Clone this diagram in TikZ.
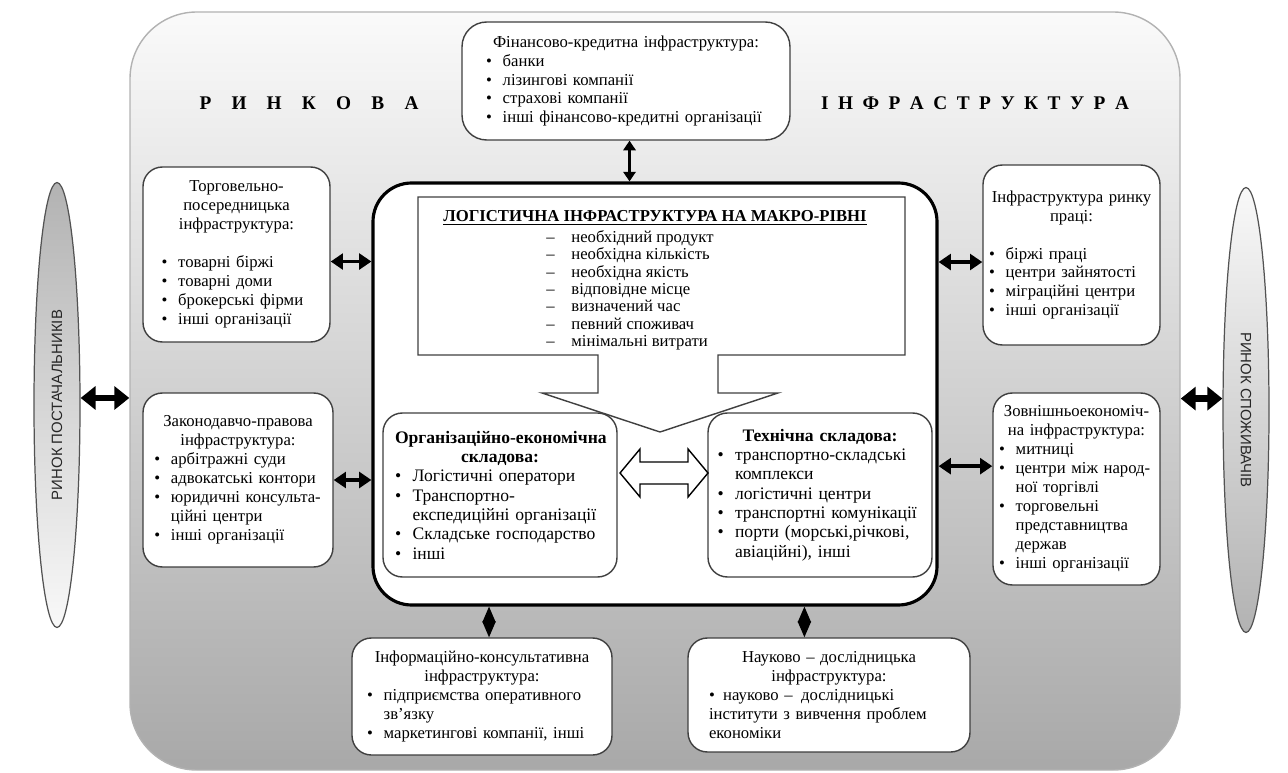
\documentclass[tikz,border=0pt]{standalone}
\usepackage{fontspec}
\setmainfont{Liberation Serif}
\newfontfamily\ellfont{Liberation Sans}
\usetikzlibrary{arrows.meta,shapes.geometric,fit}
\hyphenpenalty=10000
\exhyphenpenalty=10000

% heading and bullet item inside the boxes
\newcommand{\hd}[1]{{\noindent\centering #1\par}}
\newcommand{\itm}[1]{{\raggedright\let\\\newline\hangindent=1em\hangafter=1\noindent\makebox[1em][l]{\textbullet}#1\par}}

\tikzset{
  frame/.style={draw=gray!60, line width=0.8pt, rounded corners=38pt, inner sep=0pt,
    top color=gray!4, bottom color=gray!68},
  infobox/.style={draw=black!75, line width=0.8pt, rounded corners=11pt, fill=white,
    inner sep=0pt, align=left, font=\fontsize{9.5}{10.8}\selectfont},
  market/.style={ellipse, draw=gray!65!black, line width=0.7pt, minimum width=0.92cm,
    minimum height=8.9cm, inner sep=0pt},
  heavy/.style={line width=2.2pt, {Triangle[length=7pt,width=9pt]}-{Triangle[length=7pt,width=9pt]}},
  heavier/.style={line width=3.6pt, {Triangle[length=8.5pt,width=13pt]}-{Triangle[length=8.5pt,width=13pt]}},
  diamondlink/.style={line width=0.8pt, {Triangle[length=9pt,width=7.5pt]}-{Triangle[length=9pt,width=7.5pt]}}
}

\begin{document}
\begin{tikzpicture}[x=0.02cm, y=-0.02cm]
  \useasboundingbox (0,0) rectangle (1288,773);
  % Market infrastructure frame
  \node[frame, fit={(130,12) (1180,770)}] (infra) {};
  \node[font=\fontsize{11}{13}\selectfont\bfseries] (w1) at (309,103)
    {Р\hspace{11.5pt}И\hspace{11.5pt}Н\hspace{11.5pt}К\hspace{11.5pt}О\hspace{11.5pt}В\hspace{11.5pt}А};
  \node[font=\fontsize{11}{13}\selectfont\bfseries] (w2) at (975,103)
    {І\hspace{5.4pt}Н\hspace{5.4pt}Ф\hspace{5.4pt}Р\hspace{5.4pt}А\hspace{5.4pt}С\hspace{5.4pt}Т\hspace{5.4pt}Р\hspace{5.4pt}У\hspace{5.4pt}К\hspace{5.4pt}Т\hspace{5.4pt}У\hspace{5.4pt}Р\hspace{5.4pt}А};

  % Suppliers and consumers
  \node[market, top color=gray!60, bottom color=gray!5] (supply) at (57,405) {};
  \node[rotate=90, font=\ellfont\fontsize{8.5}{10}\selectfont, text=black!85] (supplyt) at (supply) {РИНОК ПОСТАЧАЛЬНИКІВ};
  \node[market, top color=gray!5, bottom color=gray!60] (consume) at (1246,410) {};
  \node[rotate=-90, font=\ellfont\fontsize{8.5}{10}\selectfont, text=black!85] (consumet) at (consume) {РИНОК СПОЖИВАЧІВ};
  \coordinate (sa) at ([yshift=4pt]supply.east);
  \coordinate (ca) at ([yshift=6.5pt]consume.west);
  \draw[heavier] (sa) -- (sa -| infra.west);
  \draw[heavier] (ca -| infra.east) -- (ca);

  % Logistic infrastructure
  \node[draw, line width=1.8pt, rounded corners=22pt, fill=white, inner sep=0pt,
    fit={(373,183) (937,605)}] (logist) {};
  \draw[draw=black!75, line width=0.8pt, fill=white] (418,197) -- (905,197) -- (905,355)
    -- (718,355) -- (718,393) -- (778,393) -- (660,432) -- (542,393) -- (598,393)
    -- (598,355) -- (418,355) -- cycle;
  \node[font=\fontsize{9.5}{11}\selectfont\bfseries] (macro) at (655,218)
    {\underline{ЛОГІСТИЧНА ІНФРАСТРУКТУРА НА МАКРО-РІВНІ}};
  \node[anchor=north west, align=left, inner sep=0pt, font=\fontsize{9.5}{9.9}\selectfont] (musts) at (546,230)
    {–\quad необхідний продукт\\ –\quad необхідна кількість\\ –\quad необхідна якість\\
     –\quad відповідне місце\\ –\quad визначений час\\ –\quad певний споживач\\ –\quad мінімальні витрати};

  \node[infobox, font=\fontsize{10}{11}\selectfont, text width=4.2cm, minimum width=4.68cm,
    minimum height=3.28cm] (org) at (500,495) {%
    \hd{\textbf{Організаційно-економічна\\складова:}}
    \itm{Логістичні оператори}\itm{Транспортно-\\експедиційні організації}
    \itm{Складське господарство}\itm{інші}};
  \node[infobox, font=\fontsize{10}{11}\selectfont, text width=4.1cm, minimum width=4.48cm,
    minimum height=3.28cm] (tech) at (820,495) {%
    \hd{\textbf{Технічна складова:}}
    \itm{транспортно-складські\\комплекси}\itm{логістичні центри}
    \itm{транспортні комунікації}\itm{порти (морські,річкові,\\авіаційні), інші}};
  \draw[line width=0.8pt, fill=white] (620,473) -- (640,449) -- (640,462) -- (688,462) -- (688,449)
    -- (708,473) -- (688,497) -- (688,484) -- (640,484) -- (640,497) -- cycle;

  % Surrounding infrastructure
  \node[infobox, text width=5.6cm, rounded corners=14pt, minimum width=6.56cm,
    minimum height=2.36cm] (fin) at (626,81) {%
    \hd{Фінансово-кредитна інфраструктура:}
    \itm{банки}\itm{лізингові компанії}\itm{страхові компанії}
    \itm{інші фінансово-кредитні організації}};
  \node[infobox, text width=3cm, minimum width=3.74cm, minimum height=3.5cm] (trade) at (236.5,254.5) {%
    \hd{Торговельно-\\посередницька\\інфраструктура:}\vspace{\baselineskip}
    \itm{товарні біржі}\itm{товарні доми}\itm{брокерські фірми}\itm{інші організації}};
  \node[infobox, text width=3.35cm, minimum width=3.8cm, minimum height=3.48cm] (law) at (238,480) {%
    \hd{Законодавчо-правова\\інфраструктура:}
    \itm{арбітражні суди}\itm{адвокатські контори}
    \itm{юридичні консульта-\\ційні центри}\itm{інші організації}};
  \node[infobox, text width=3.3cm, minimum width=3.54cm, minimum height=3.6cm] (labour) at (1071.5,255) {%
    \hd{Інфраструктура ринку\\праці:}\vspace{\baselineskip}
    \itm{біржі праці}\itm{центри зайнятості}\itm{міграційні центри}\itm{інші організації}};
  \node[infobox, text width=3.1cm, minimum width=3.34cm, minimum height=3.84cm] (foreign) at (1076.5,489) {%
    \hd{Зовнішньоекономіч-\\на інфраструктура:}
    \itm{митниці}\itm{центри між народ-\\ної торгівлі}
    \itm{торговельні\\представництва\\держав}\itm{інші організації}};
  \node[infobox, text width=4.6cm, minimum width=5.2cm, minimum height=2.34cm] (inform) at (482,696.5) {%
    \hd{Інформаційно-консультативна\\інфраструктура:}
    \itm{підприємства оперативного\\зв’язку}\itm{маркетингові компанії, інші}};
  \node[infobox, text width=4.8cm, minimum width=5.64cm, minimum height=2.28cm] (science) at (829,695) {%
    \hd{Науково – дослідницька\\інфраструктура:}
    {\raggedright\noindent\textbullet\enspace науково –\enspace дослідницькі\\інститути з вивчення проблем\\економіки\par}};

  % Links
  \draw[line width=1.6pt, {Triangle[length=5.5pt,width=7pt]}-{Triangle[length=5.5pt,width=7pt]}]
    ([xshift=2pt]fin.south) -- ([xshift=2pt]fin.south |- logist.north);
  \coordinate (tr) at ([yshift=-4pt]trade.east);
  \coordinate (lb) at ([yshift=-4pt]labour.west);
  \coordinate (fw) at ([yshift=13pt]foreign.west);
  \draw[heavy] (tr) -- (tr -| logist.west);
  \draw[heavy] (law.east) -- (law.east -| logist.west);
  \draw[heavy] (lb -| logist.east) -- (lb);
  \draw[heavy] (fw -| logist.east) -- (fw);
  \coordinate (sc) at ([xshift=-14pt]science.north);
  \draw[diamondlink] ([xshift=4pt]inform.north |- logist.south) -- ([xshift=4pt]inform.north);
  \draw[diamondlink] (sc |- logist.south) -- (sc);
\end{tikzpicture}
\end{document}
